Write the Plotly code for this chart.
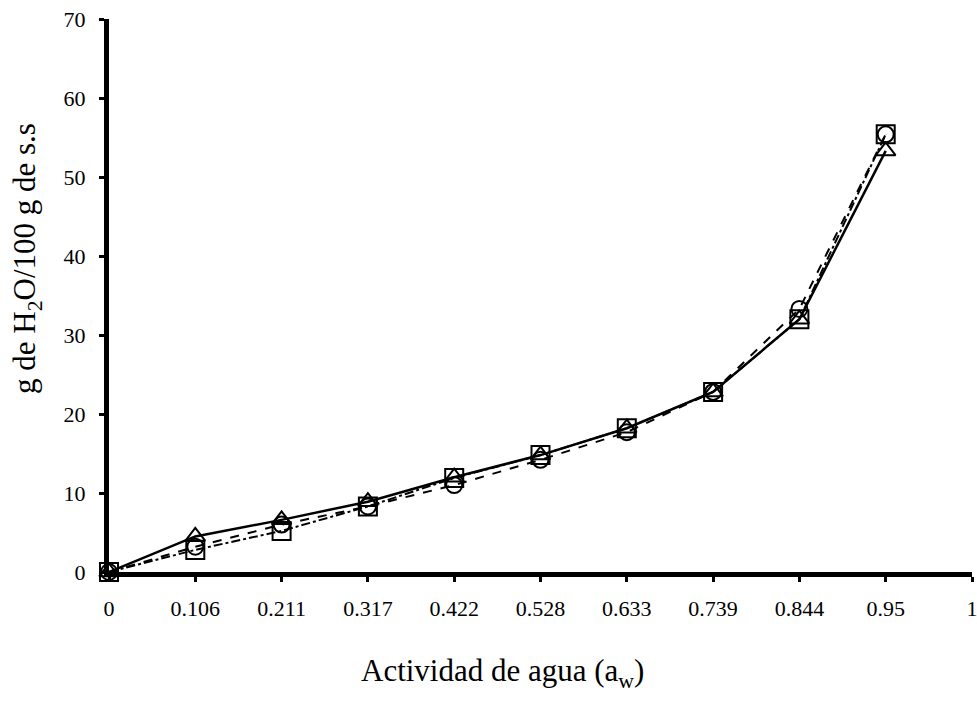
import plotly.graph_objects as go

x_labels = ["0", "0.106", "0.211", "0.317", "0.422", "0.528", "0.633", "0.739", "0.844", "0.95", "1"]
aw = x_labels[:10]

serie_triangulo = [0, 4.5, 6.6, 8.9, 12.0, 14.8, 18.2, 22.8, 32.0, 53.3]
serie_cuadrado = [0, 2.8, 5.2, 8.3, 11.9, 14.8, 18.2, 22.8, 32.0, 55.4]
serie_circulo = [0, 3.2, 6.0, 8.3, 11.0, 14.2, 17.7, 22.8, 33.3, 55.4]

y_ticks = [0, 10, 20, 30, 40, 50, 60, 70]

FONT = "Liberation Serif"

fig = go.Figure()
fig.add_trace(go.Scatter(
    x=aw, y=serie_circulo, mode="lines+markers", cliponaxis=False,
    line=dict(color="black", width=2, dash="dash"),
    marker=dict(symbol="circle-open", size=16, color="black", line=dict(width=2, color="black")),
    showlegend=False))
fig.add_trace(go.Scatter(
    x=aw, y=serie_cuadrado, mode="lines+markers", cliponaxis=False,
    line=dict(color="black", width=2, dash="dashdot"),
    marker=dict(symbol="square-open", size=18, color="black", line=dict(width=2, color="black")),
    showlegend=False))
fig.add_trace(go.Scatter(
    x=aw, y=serie_triangulo, mode="lines+markers", cliponaxis=False,
    line=dict(color="black", width=2.5),
    marker=dict(symbol="triangle-up-open", size=17, color="black", line=dict(width=2, color="black")),
    showlegend=False))

fig.update_layout(
    width=977, height=702,
    margin=dict(l=109, r=5, t=19, b=130, autoexpand=False),
    paper_bgcolor="white", plot_bgcolor="white",
    font=dict(family=FONT, color="black", size=22),
    annotations=[
        dict(text="Actividad de agua (a<sub>w</sub>)", xref="paper", yref="paper",
             x=(502 - 109) / 863, y=(572 - 673) / 553, xanchor="center", yanchor="middle",
             showarrow=False, font=dict(family=FONT, size=31, color="black")),
        dict(text="g de H<sub>2</sub>O/100 g de s.s", xref="paper", yref="paper",
             x=(27 - 109) / 863, y=(572 - 259) / 553, xanchor="center", yanchor="middle",
             textangle=-90, showarrow=False, font=dict(family=FONT, size=31, color="black")),
    ],
)
fig.update_xaxes(
    type="category", categoryorder="array", categoryarray=x_labels,
    tickvals=x_labels, ticktext=x_labels,
    range=[0, 10], showgrid=False, zeroline=False, automargin=False,
    showline=True, linecolor="black", linewidth=5,
    ticks="outside", ticklen=5, tickwidth=3, tickcolor="black",
    ticklabelstandoff=8,
    tickfont=dict(family=FONT, size=22, color="black"),
)
fig.update_yaxes(
    range=[0, 70], tickvals=y_ticks, showgrid=False, zeroline=False, automargin=False,
    showline=True, linecolor="black", linewidth=5,
    ticks="outside", ticklen=5, tickwidth=3, tickcolor="black",
    ticklabelstandoff=9,
    tickfont=dict(family=FONT, size=22, color="black"),
)

fig.write_html("out.html")
